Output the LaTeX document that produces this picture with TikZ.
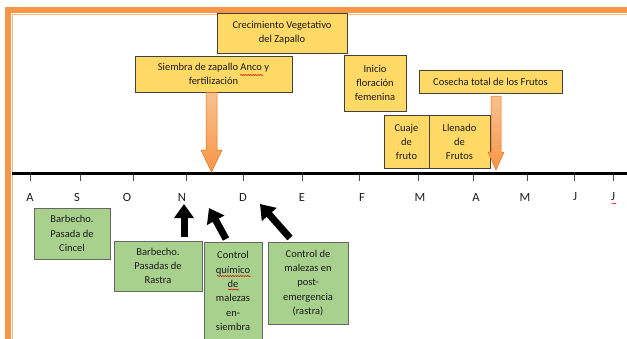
\documentclass[tikz,border=0pt]{standalone}
\usepackage{fontspec}
\setmainfont{Carlito}
\usetikzlibrary{arrows.meta,calc,decorations.pathmorphing}
\definecolor{yel}{HTML}{FFD966}
\definecolor{grn}{HTML}{A9D18E}
\definecolor{orn}{HTML}{F79646}
\definecolor{ornlt}{HTML}{FAC090}
\definecolor{orndk}{HTML}{E46C0A}
\definecolor{txt}{HTML}{1A1A1A}
\begin{document}
\begin{tikzpicture}[x=1pt,y=-1pt,
  ybox/.style={draw=black!75, fill=yel, line width=0.9pt, align=center, inner sep=0pt, text=txt,
    font=\fontsize{10.5}{14}\selectfont},
  gbox/.style={draw=black!60, fill=grn, line width=0.9pt, align=center, inner sep=0pt, text=txt,
    font=\fontsize{10.5}{14.3}\selectfont},
  month/.style={font=\fontsize{12.5}{13}\selectfont, text=txt, inner sep=0pt},
  tick/.style={draw=black!70, line width=0.7pt},
  blkarrow/.style={draw=black, line width=7pt, -{Triangle[width=19pt,length=14pt]}},
  ornarrow/.style={draw=orndk, line width=0.5pt, top color=ornlt, bottom color=orn},
  squig/.style={draw=red!85!black, line width=0.5pt, decorate, decoration={snake, amplitude=0.6pt, segment length=2.5pt}}
]
\useasboundingbox (0,0) rectangle (627,338);
\clip (0,0) rectangle (627,338);
% frame
\draw[orn, line width=6pt] (8,10) rectangle (660,380);
\draw[orn!70, line width=1pt] (12.5,14.5) rectangle (660,380);
% timeline
\coordinate (tl0) at (12,173);
\coordinate (tl1) at (627,173);
\draw[black, line width=3pt] (tl0) -- (tl1);
\foreach \x/\m/\lx [count=\i] in {30/A/30, 80/S/77, 133/O/127, 186/N/182, 243/D/243, 302/E/302, 359/F/362, 418/M/420, 473/A/476, 527/M/525, 574/J/575, 613/J/613}{
  \draw[tick] (\x,175) -- (\x,181);
  \node[month] (m\i) at (\lx,197) {\m};
}
% yellow boxes
\node[ybox, minimum width=130, minimum height=40] (crec) at (282,33) {Crecimiento Vegetativo\\del Zapallo};
\node[ybox, minimum width=157, minimum height=36] (siem) at (213.5,74) {Siembra de zapallo Anco y\\fertilización};
\node[ybox, minimum width=62, minimum height=56] (inic) at (375,83) {Inicio\\floración\\femenina};
\node[ybox, minimum width=143, minimum height=23] (cose) at (490.5,81.5) {Cosecha total de los Frutos};
\node[ybox, minimum width=45, minimum height=53] (cuaje) at (406.5,141.5) {Cuaje\\de\\fruto};
\node[ybox, minimum width=61, minimum height=53] (llen) at (459.5,141.5) {Llenado\\de\\Frutos};
% orange arrows
\path[ornarrow] (206,92.5) -- (217,92.5) -- (217,150) -- (222,150) -- (211.5,172) -- (201,150) -- (206,150) -- cycle;
\path[ornarrow] (491,96) -- (501,96) -- (501,152) -- (504,152) -- (496,170) -- (488,152) -- (491,152) -- cycle;
% green boxes
\node[gbox, minimum width=76, minimum height=51] (cinc) at (72,233.5) {Barbecho.\\Pasada de\\Cincel};
\node[gbox, minimum width=88, minimum height=50] (rast) at (158,266) {Barbecho.\\Pasadas de\\Rastra};
\node[gbox, minimum width=58, minimum height=98] (quim) at (233,291) {Control\\químico\\de\\malezas\\en-\\siembra};
\node[gbox, minimum width=80, minimum height=82] (post) at (308,283) {Control de\\malezas en\\post-\\emergencia\\(rastra)};
% spell-check marks
\draw[squig] (240,75) -- (263,75);
\draw[squig] (217,276) -- (251,276);
\draw[squig] (228,289.5) -- (239,289.5);
\draw[squig] (611.5,203.5) -- (616,203.5);
% black arrows
\coordinate (a1s) at (184,237);
\coordinate (a1e) at (184,204);
\coordinate (a2s) at (226,239);
\coordinate (a2e) at (209,208);
\coordinate (a3s) at (290,238);
\coordinate (a3e) at (260,204);
\draw[blkarrow] (a1s) -- (a1e);
\draw[blkarrow] (a2s) -- (a2e);
\draw[blkarrow] (a3s) -- (a3e);
\end{tikzpicture}
\end{document}
